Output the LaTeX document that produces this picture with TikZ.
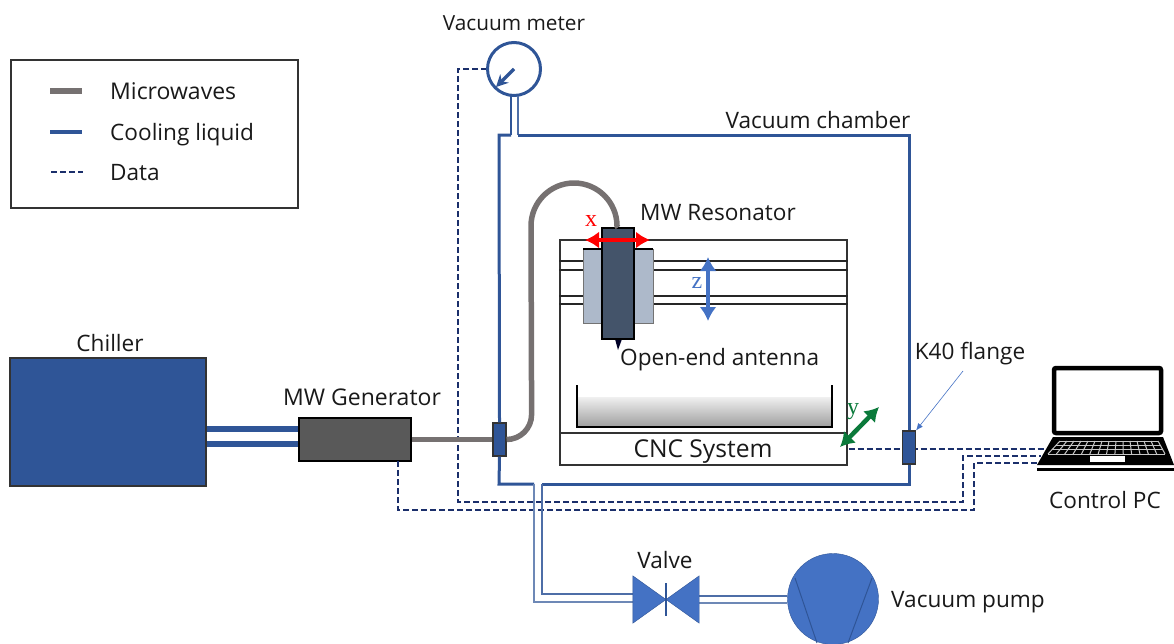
\documentclass[tikz,border=0pt]{standalone}
\usepackage{fontspec}
\setmainfont{Open Sans}
\newfontfamily\axisfont{Liberation Serif}
\usetikzlibrary{arrows.meta}
\definecolor{cool}{HTML}{2F5597}
\definecolor{lblue}{HTML}{4472C4}
\definecolor{navy}{HTML}{1B2F6B}
\definecolor{mw}{HTML}{767171}
\definecolor{slate}{HTML}{44546A}
\definecolor{carriage}{HTML}{ADB9CA}
\definecolor{yaxis}{HTML}{0B7A3B}
\begin{document}
\begin{tikzpicture}[x=1pt,y=-1pt,
  label/.style={inner sep=0pt,text=black!90,text height=16pt,text depth=0pt,font=\fontsize{22.6}{24}\selectfont},
  axis/.style={inner sep=0pt,font=\fontsize{24}{24}\axisfont},
  block/.style={draw=#1,inner sep=0pt,line width=1.2pt},
  flange/.style={block=black!80,fill=cool,minimum width=13,minimum height=33},
  coolpipe/.style={draw=cool,line width=3pt},
  thinpipe/.style={draw=cool!85,line width=1.5pt},
  mwline/.style={draw=mw,line width=5.5pt},
  data/.style={draw=navy,line width=2.2pt,dash pattern=on 6pt off 3pt},
  move/.style={{Latex[length=14pt,width=17pt]}-{Latex[length=14pt,width=17pt]},line width=4.5pt},
  frame/.style={draw=black!80,line width=1.2pt}]
\useasboundingbox (0,0) rectangle (1174,643);
% legend
\node[block=black!80,minimum width=287,minimum height=148] (legend) at (154.5,134) {};
\draw[mwline,line width=6pt] (50,91) -- (82,91);
\draw[coolpipe,line width=4.5pt] (50,132) -- (82,132);
\draw[data,line width=1.4pt] (51,172) -- (83,172);
\node[label,anchor=west] (micro) at (110,91) {\fontsize{23}{24}\selectfont Microwaves};
\node[label,anchor=west] (cooling) at (110,132) {Cooling liquid};
\node[label,anchor=west] (datatxt) at (110,172) {Data};
% chiller and generator
\node[block=black!80,fill=cool,minimum width=196,minimum height=128] (chiller) at (108,422) {};
\node[block=black,fill=black!65,minimum width=112,minimum height=43] (gen) at (355,439.5) {};
\node[label] (chillertxt) at (110,343) {Chiller};
\node[label] (gentxt) at (362,397) {\fontsize{23}{24}\selectfont MW Generator};
\coordinate (pipea) at (0,429);
\coordinate (pipeb) at (0,444);
\draw[coolpipe,line width=5.5pt] (chiller.east |- pipea) -- (gen.west |- pipea);
\draw[coolpipe,line width=5.5pt] (chiller.east |- pipeb) -- (gen.west |- pipeb);
% data lines
\node[inner sep=0pt,minimum size=1pt] (cncport) at (848,449) {};
\coordinate (pcport) at (1047,449);
\coordinate (dataa) at (1041,456);
\coordinate (datab) at (1041,463);
\draw[data] (487,69) -- (458,69) -- (458,502) -- (963,502) -- (963,456) -- (dataa);
\draw[data] (398,461) -- (398,510) -- (974,510) -- (974,463) -- (datab);
\draw[data] (cncport) -- (pcport);
% chamber and vacuum line
\node[draw=cool,line width=3pt,circle,inner sep=0pt,minimum size=53] (meter) at (514,69) {};
\coordinate (needle) at (496,87);
\draw[-{Stealth[length=12pt,width=12pt]},draw=cool,fill=cool,line width=3.2pt] (meter.center) -- (needle);
\node[label] (metertxt) at (514,22) {\fontsize{20.8}{24}\selectfont Vacuum meter};
\node[label] (chambertxt) at (818,120) {Vacuum chamber};
\node[flange] (inlet) at (499.5,439.5) {};
\node[flange] (outlet) at (909,447.5) {};
\node[draw=none,inner sep=0pt,minimum width=66,minimum height=47] (valve) at (666,599.5) {};
\node[draw=cool,fill=lblue,circle,inner sep=0pt,minimum size=91] (pump) at (833,599) {};
\draw[coolpipe,line width=2.5pt] (511,96) -- (511,135);
\draw[thinpipe] (518,96) -- (518,135);
\draw[coolpipe] (511,135) -- (499,135) -- (inlet.north);
\draw[coolpipe] (518,135) -- (909,135) -- (outlet.north);
\draw[coolpipe] (outlet.south) -- (909,484) -- (542,484);
\draw[thinpipe,line width=2pt] (542,484) -- (542,594) -- (valve.west |- 0,594);
\draw[coolpipe] (inlet.south) -- (499,484) -- (534,484);
\draw[thinpipe,draw=cool!70] (534,484) -- (534,602) -- (valve.west |- 0,602);
\draw[thinpipe] (valve.east |- 0,596) -- (pump.west |- 0,596);
\draw[thinpipe,draw=cool!70] (valve.east |- 0,603) -- (pump.west |- 0,603);
\fill[fill=lblue,draw=cool] (valve.north west) -- (valve.center) -- (valve.south west) -- cycle;
\fill[fill=lblue,draw=cool] (valve.north east) -- (valve.center) -- (valve.south east) -- cycle;
\draw[draw=cool,line width=1.5pt] (666,583) -- (666,616);
\draw[draw=cool,line width=1pt] (795,578) -- (817,643);
\draw[draw=cool,line width=1pt] (872,578) -- (848,643);
\node[label] (valvetxt) at (665,560) {Valve};
\node[label,anchor=west] (pumptxt) at (891,599) {Vacuum pump};
% cnc system
\node[frame,draw,minimum width=287,minimum height=225,inner sep=0pt] (cnc) at (703.5,352.5) {};
\foreach \ypos/\lw in {261/1.2,270/1.2,296/2,304/1.2}
  \draw[black!85,line width=\lw pt] (cnc.west |- 0,\ypos) -- (cnc.east |- 0,\ypos);
\draw[frame] (cnc.west |- 0,433) -- (cnc.east |- 0,433);
\shade[top color=black!6,bottom color=black!38] (577,397) rectangle (832,427);
\draw[black,line width=1.8pt] (577,385) -- (577,427) -- (832,427) -- (832,385);
\node[label] (cnctxt) at (703,449) {\fontsize{24.6}{24}\selectfont CNC System};
% resonator
\fill[black!85!blue] (615,339) -- (622,339) -- (618,350) -- cycle;
\draw[black!55,line width=.8pt,fill=carriage] (583,249) rectangle (653,323);
\draw[black,line width=1.2pt] (583,249) -- (653,249);
\node[block=black,fill=slate,minimum width=32,minimum height=111] (res) at (618,283.5) {};
\node[label,anchor=west] (restxt) at (640,212) {MW Resonator};
\node[label,anchor=west] (anttxt) at (620,357) {Open-end antenna};
\draw[mwline] (inlet.east) arc[start angle=90,end angle=0,radius=25] -- (531,226)
  arc[start angle=180,end angle=360,radius=43] -- (res.north);
\draw[mwline] (gen.east) -- (inlet.west);
% axes
\draw[move,red] (585,240) -- (650,240);
\node[axis,text=red] (xtxt) at (591,221) {x};
\draw[move,lblue] (708,257) -- (708,321);
\node[axis,text=lblue] (ztxt) at (697,283) {z};
\draw[move,yaxis] (840,447) -- (879,407);
\node[axis,text=yaxis] (ytxt) at (853,412) {y};
% laptop
\node[draw=black,line width=4.5pt,rounded corners=2pt,minimum width=107,minimum height=65,inner sep=0pt] (pc) at (1107.5,400.5) {};
\fill[black] (1053,437) -- (1163,437) -- (1174,465) -- (1037,465) -- cycle;
\fill[black] (1037,467.5) rectangle (1174,471);
\foreach \ypos/\xa/\xb in {441/1060/1158,445.5/1056/1160,449.5/1052/1162.5,454/1048/1165}
  \draw[black!22,line width=1pt] (\xa,\ypos) -- (\xb,\ypos);
\foreach \i in {0,...,14}
  \draw[black!22,line width=1pt] ({1060+\i*7},441) -- ({1048+\i*8.36},454);
\fill[white] (1090,456) rectangle (1125,462);
\node[label] (pctxt) at (1105,500) {Control PC};
\node[label] (flangetxt) at (970,351) {K40 flange};
\draw[-{Latex[length=7pt,width=6pt]},lblue,line width=.6pt] (963,371) -- (outlet.north east);
\end{tikzpicture}
\end{document}
